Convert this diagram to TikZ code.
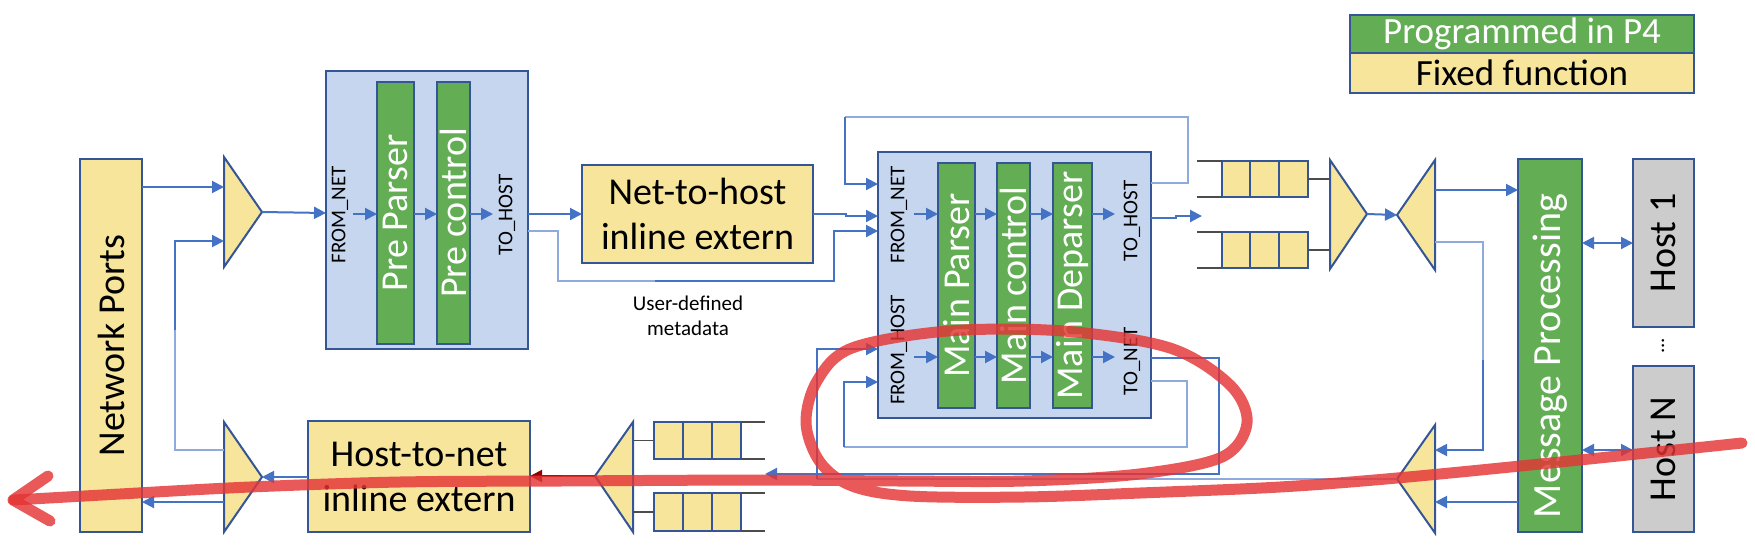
\documentclass[tikz,border=0pt]{standalone}
\usepackage{fontspec}
\setmainfont{Carlito}
\usetikzlibrary{arrows.meta}
\definecolor{lblue}{RGB}{68,114,196}
\definecolor{llight}{RGB}{143,170,220}
\definecolor{bdr}{RGB}{52,86,150}
\definecolor{pfill}{RGB}{197,214,238}
\definecolor{pgreen}{RGB}{99,174,84}
\definecolor{pyellow}{RGB}{247,229,155}
\definecolor{pgray}{RGB}{204,204,204}
\definecolor{annot}{RGB}{228,52,52}
\definecolor{dred}{RGB}{150,0,0}
\newcommand\mkbox[7]{%
  \node[#6, anchor=north west, minimum width={(#4-#2)*0.5pt}, minimum height={(#5-#3)*0.5pt}] (#1) at (#2,#3) {#7};}
\tikzset{
  box/.style={draw=bdr, line width=1pt, inner sep=0pt, outer sep=0pt, align=center},
  yel/.style={box, fill=pyellow},
  grn/.style={box, fill=pgreen},
  blk/.style={box, fill=pfill},
  gry/.style={box, fill=pgray},
  big/.style={font=\fontsize{19}{22.5}\selectfont},
  lgd/.style={font=\fontsize{18.5}{22}\selectfont},
  huge/.style={font=\fontsize{20}{24}\selectfont},
  small/.style={font=\fontsize{10.5}{12.5}\selectfont, inner sep=0pt},
  arr/.style={draw=lblue, line width=1pt, -{Triangle[length=6pt,width=6pt]}},
  arrd/.style={draw=lblue, line width=1pt, {Triangle[length=6pt,width=6pt]}-{Triangle[length=6pt,width=6pt]}},
  ln/.style={draw=lblue, line width=1pt},
  lnl/.style={draw=llight, line width=0.8pt},
  qline/.style={draw=black!70, line width=0.7pt},
  tri/.style={draw=bdr, line width=1pt, fill=pyellow, line join=miter},
  redpen/.style={draw=annot, line width=5.5pt, line cap=round, line join=round, opacity=0.82},
  rot/.style={rotate=90, inner sep=0pt}
}
\begin{document}
\begin{tikzpicture}[x=0.5pt, y=-0.5pt]
\useasboundingbox (0,0) rectangle (1755,552);
% legend
\mkbox{lg}{1350}{15}{1694}{53}{grn,lgd,text=white}{Programmed in P4}
\mkbox{ly}{1350}{53}{1694}{93}{yel,lgd}{Fixed function}
% network ports
\mkbox{np}{80}{159}{142}{532}{yel}{}
\node[rot,big] (tnp) at (np.center) {Network Ports};
% triangles
\draw[tri] (224,157) -- (262,212) -- (224,267) -- cycle;
\coordinate (tmL) at (224,212); \coordinate (tmA) at (262,212);
\draw[tri] (224,422) -- (262,477) -- (224,532) -- cycle;
\coordinate (bmL) at (224,477); \coordinate (bmA) at (262,477);
\draw[tri] (633,422) -- (595,476) -- (633,532) -- cycle;
\coordinate (lqR) at (633,476); \coordinate (lqA) at (595,476);
\draw[tri] (1330,160) -- (1367,214) -- (1330,269) -- cycle;
\coordinate (rqL) at (1330,214); \coordinate (rqA) at (1367,214);
\draw[tri] (1435,160) -- (1397,215) -- (1435,270) -- cycle;
\coordinate (rdR) at (1435,215); \coordinate (rdA) at (1397,215);
\draw[tri] (1435,425) -- (1397,479) -- (1435,533) -- cycle;
\coordinate (rdbR) at (1435,479); \coordinate (rdbA) at (1397,479);
% pre block
\mkbox{pre}{326}{71}{528}{349}{blk}{}
\mkbox{pp}{377}{82}{414}{344}{grn}{}
\mkbox{pc}{437}{82}{470}{344}{grn}{}
\node[rot,big,text=white] (tpp) at (pp.center) {Pre Parser};
\node[rot,big,text=white] (tpc) at (pc.center) {Pre control};
\node[rot,small] (pfn) at (340,215) {FROM\_NET};
\node[rot,small] (pth) at (507,215) {TO\_HOST};
\coordinate (pthin) at (493,214);
% net-to-host
\mkbox{n2h}{582}{165}{813}{263}{yel,big}{Net-to-host\\inline extern}
\node[small,align=center] (meta) at (688,316) {User-defined\\metadata};
% main block
\mkbox{main}{878}{152}{1151}{418}{blk}{}
\mkbox{mp}{938}{163}{975}{408}{grn}{}
\mkbox{mc}{997}{163}{1030}{408}{grn}{}
\mkbox{md}{1053}{163}{1092}{408}{grn}{}
\node[rot,big,text=white] (tmp) at (mp.center) {Main Parser};
\node[rot,big,text=white] (tmc) at (mc.center) {Main control};
\node[rot,big,text=white] (tmd) at (md.center) {Main Deparser};
\node[rot,small] (mfn) at (899,215) {FROM\_NET};
\node[rot,small] (mfh) at (899,350) {FROM\_HOST};
\node[rot,small] (mth) at (1132,221) {TO\_HOST};
\node[rot,small] (mtn) at (1132,361) {TO\_NET};
\coordinate (mthin) at (1115,214);
\coordinate (mtnin) at (1115,357);
% host-to-net
\mkbox{h2n}{308}{421}{530}{532}{yel,big}{Host-to-net\\inline extern}
% queues upper right
\mkbox{qa1}{1222}{161}{1250}{197}{yel}{}
\mkbox{qa2}{1250}{161}{1279}{197}{yel}{}
\mkbox{qa3}{1279}{161}{1308}{197}{yel}{}
\mkbox{qb1}{1222}{232}{1250}{268}{yel}{}
\mkbox{qb2}{1250}{232}{1279}{268}{yel}{}
\mkbox{qb3}{1279}{232}{1308}{268}{yel}{}
\coordinate (qaO) at (1197,179); \coordinate (qbO) at (1197,250);
\draw[qline] (qaO |- qa1.north) -- (qa1.north west);
\draw[qline] (qaO |- qa1.south) -- (qa1.south west);
\draw[qline] (qbO |- qb1.north) -- (qb1.north west);
\draw[qline] (qbO |- qb1.south) -- (qb1.south west);
\draw[qline] (qa3.east) -- (rqL |- qa3.east);
\draw[qline] (qb3.east) -- (rqL |- qb3.east);
% queues lower left
\mkbox{qc1}{654}{422}{683}{459}{yel}{}
\mkbox{qc2}{683}{422}{712}{459}{yel}{}
\mkbox{qc3}{712}{422}{741}{459}{yel}{}
\mkbox{qd1}{654}{493}{683}{531}{yel}{}
\mkbox{qd2}{683}{493}{712}{531}{yel}{}
\mkbox{qd3}{712}{493}{741}{531}{yel}{}
\coordinate (qcO) at (765,441); \coordinate (qdO) at (765,512);
\draw[qline] (qc3.north east) -- (qcO |- qc3.north);
\draw[qline] (qc3.south east) -- (qcO |- qc3.south);
\draw[qline] (qd3.north east) -- (qdO |- qd3.north);
\draw[qline] (qd3.south east) -- (qdO |- qd3.south);
\draw[qline] (qc1.west) -- (lqR |- qc1.west);
\draw[qline] (qd1.west) -- (lqR |- qd1.west);
% message processing and hosts
\mkbox{msg}{1518}{159}{1582}{532}{grn}{}
\node[rot,huge,text=white] (tmsg) at (1550,356) {Message Processing};
\mkbox{h1}{1633}{159}{1694}{327}{gry}{}
\mkbox{hn}{1633}{366}{1694}{532}{gry}{}
\node[rot,big] (th1) at (h1.center) {Host 1};
\node[rot,big] (thn) at (hn.center) {Host N};
\node[rot,small] (dots) at (1663,346) {...};
% connectors left
\draw[arr] (np.east |- 0,187) -- (tmL |- 0,187);
\draw[lnl] (bmL |- 0,450) -- (175,450) -- (175,330);
\draw[arr] (175,330) -- (175,241) -- (tmL |- 0,241);
\draw[arr] (bmL |- 0,502) -- (np.east |- 0,502);
\draw[arr] (tmA) -- (pre.west |- 0,213);
\draw[arr] (353,214) -- (pp.west |- 0,214);
\draw[arr] (pp.east |- 0,214) -- (pc.west |- 0,214);
\draw[arr] (pc.east |- 0,214) -- (pthin);
\draw[arr] (pre.east |- 0,214) -- (n2h.west |- 0,214);
\draw[lnl] (pre.east |- 0,231) -- (558,231) -- (558,281) -- (655,281);
\draw[arr] (655,281) -- (834,281) -- (834,231) -- (main.west |- 0,231);
\draw[arr] (n2h.east |- 0,214) -- (846,214) -- (846,216) -- (main.west |- 0,216);
\draw[lnl] (main.east |- 0,183) -- (1188,183) -- (1188,117) -- (845,117);
\draw[arr] (845,117) -- (845,184) -- (main.west |- 0,184);
% inside main
\draw[arr] (914,214) -- (mp.west |- 0,214);
\draw[arr] (mp.east |- 0,214) -- (mc.west |- 0,214);
\draw[arr] (mc.east |- 0,214) -- (md.west |- 0,214);
\draw[arr] (md.east |- 0,214) -- (mthin);
\draw[arr] (914,357) -- (mp.west |- 0,357);
\draw[arr] (mp.east |- 0,357) -- (mc.west |- 0,357);
\draw[arr] (mc.east |- 0,357) -- (md.west |- 0,357);
\draw[arr] (md.east |- 0,357) -- (mtnin);
% main outputs
\coordinate (qin) at (1202,216);
\draw[arr] (main.east |- 0,218) -- (1176,218) -- (1176,216) -- (qin);
\draw[lnl] (main.east |- 0,381) -- (1187,381) -- (1187,447) -- (844,447);
\draw[arr] (844,447) -- (844,382) -- (main.west |- 0,382);
\coordinate (qlin) at (765,474);
\draw[arr] (main.east |- 0,358) -- (1219,358) -- (1219,474) -- (qlin);
\draw[lnl] (rdbA) -- (817,479);
\draw[arr] (817,479) -- (817,349) -- (main.west |- 0,349);
% right side
\draw[arr] (rqA) -- (rdA);
\draw[arr] (rdR |- 0,190) -- (msg.west |- 0,190);
\draw[lnl] (rdR |- 0,242) -- (1483,242) -- (1483,360);
\draw[arr] (1483,360) -- (1483,450) -- (rdbR |- 0,450);
\draw[arrd] (msg.east |- 0,243) -- (h1.west |- 0,243);
\draw[arrd] (msg.east |- 0,450) -- (hn.west |- 0,450);
\draw[arr] (msg.west |- 0,502) -- (rdbR |- 0,502);
% bottom left
\draw[draw=dred, line width=1pt, -{Triangle[length=6pt,width=6pt]}] (lqA) -- (h2n.east |- lqA);
\draw[arr] (h2n.west |- bmA) -- (bmA);
% red annotation
\draw[redpen] plot[smooth, tension=0.55] coordinates {(1742,443) (1560,462) (1397,478) (1280,487) (1140,493) (1024,497) (910,496) (852,486) (820,462) (806,423) (817,381) (852,348) (948,331) (1063,331) (1170,348) (1230,385) (1247,423) (1222,457) (1139,474) (1024,481) (900,481) (760,480) (560,481) (400,482) (250,487) (120,494) (14,500)};
\draw[redpen] (48,476) -- (13,500) -- (50,521);
\end{tikzpicture}
\end{document}
